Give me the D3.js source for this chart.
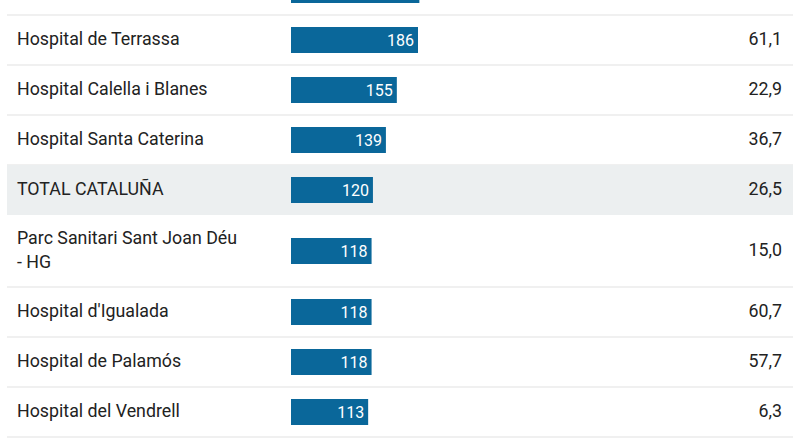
<!DOCTYPE html>
<html>
<head>
<meta charset="utf-8">
<script src="https://cdn.jsdelivr.net/npm/d3@7"></script>
<style>
  body { margin: 0; background: #fff; }
  svg { display: block; }
</style>
</head>
<body>
<svg id="chart" width="800" height="445"></svg>
<script>
// rows as they appear, top row is cut off by the frame
var hospitals = ["", "Hospital de Terrassa", "Hospital Calella i Blanes", "Hospital Santa Caterina",
  "TOTAL CATALUÑA", "Parc Sanitari Sant Joan Déu|- HG", "Hospital d'Igualada", "Hospital de Palamós",
  "Hospital del Vendrell"]
var bedValues = [188, 186, 155, 139, 120, 118, 118, 118, 113]
var rateLabels = ["", "61,1", "22,9", "36,7", "26,5", "15,0", "60,7", "57,7", "6,3"]
var totalRow = "TOTAL CATALUÑA"

var svg = d3.select("#chart")
var font = "'Roboto', 'Liberation Sans', sans-serif"

var x = d3.scaleLinear()
  .domain([0, 186])
  .range([291, 418])

// variable row heights (two-line labels are taller)
var rows = []
var rowTop = -35
hospitals.forEach(function(h, i) {
  var lines = h.split("|")
  var hgt = lines.length > 1 ? 72 : 50
  rows.push({ name: h, lines: lines, value: bedValues[i], rate: rateLabels[i], y: rowTop, h: hgt })
  rowTop += hgt
})

var rowG = svg.selectAll("g.row")
  .data(rows)
  .enter()
  .append("g")
  .attr("class", "row")
  .attr("transform", d => `translate(0,${d.y})`)

rowG.filter(d => d.name === totalRow)
  .append("rect")
  .attr("x", 7)
  .attr("y", 0)
  .attr("width", 786)
  .attr("height", d => d.h)
  .attr("fill", "#eceff0")

// separator under each row
rowG.filter(d => d.name !== totalRow)
  .append("line")
  .attr("x1", 7)
  .attr("x2", 793)
  .attr("y1", d => d.h)
  .attr("y2", d => d.h)
  .attr("stroke", "#ebebeb")
  .attr("stroke-width", 1.5)

rowG.append("rect")
  .attr("x", x(0))
  .attr("y", d => d.h / 2 - 13)
  .attr("width", d => x(d.value) - x(0))
  .attr("height", 26)
  .attr("fill", "#0a679a")

rowG.filter(d => d.name !== "")
  .append("text")
  .attr("x", d => x(d.value) - 4)
  .attr("y", d => d.h / 2 + 5.5)
  .attr("text-anchor", "end")
  .attr("fill", "#fff")
  .attr("font-family", font)
  .attr("font-size", 16)
  .text(d => d.value)

var label = rowG.append("text")
  .attr("font-family", font)
  .attr("font-size", 17.8)
  .attr("fill", "#222")

label.selectAll("tspan")
  .data(d => d.lines.map((l, i) => ({ l: l, i: i, n: d.lines.length, h: d.h })))
  .enter()
  .append("tspan")
  .attr("x", 17)
  .attr("y", t => t.h / 2 + 5 + (t.i - (t.n - 1) / 2) * 24)
  .text(t => t.l)

rowG.append("text")
  .attr("x", 782)
  .attr("y", d => d.h / 2 + 5)
  .attr("text-anchor", "end")
  .attr("font-family", font)
  .attr("font-size", 17.8)
  .attr("fill", "#222")
  .text(d => d.rate)
</script>
</body>
</html>
